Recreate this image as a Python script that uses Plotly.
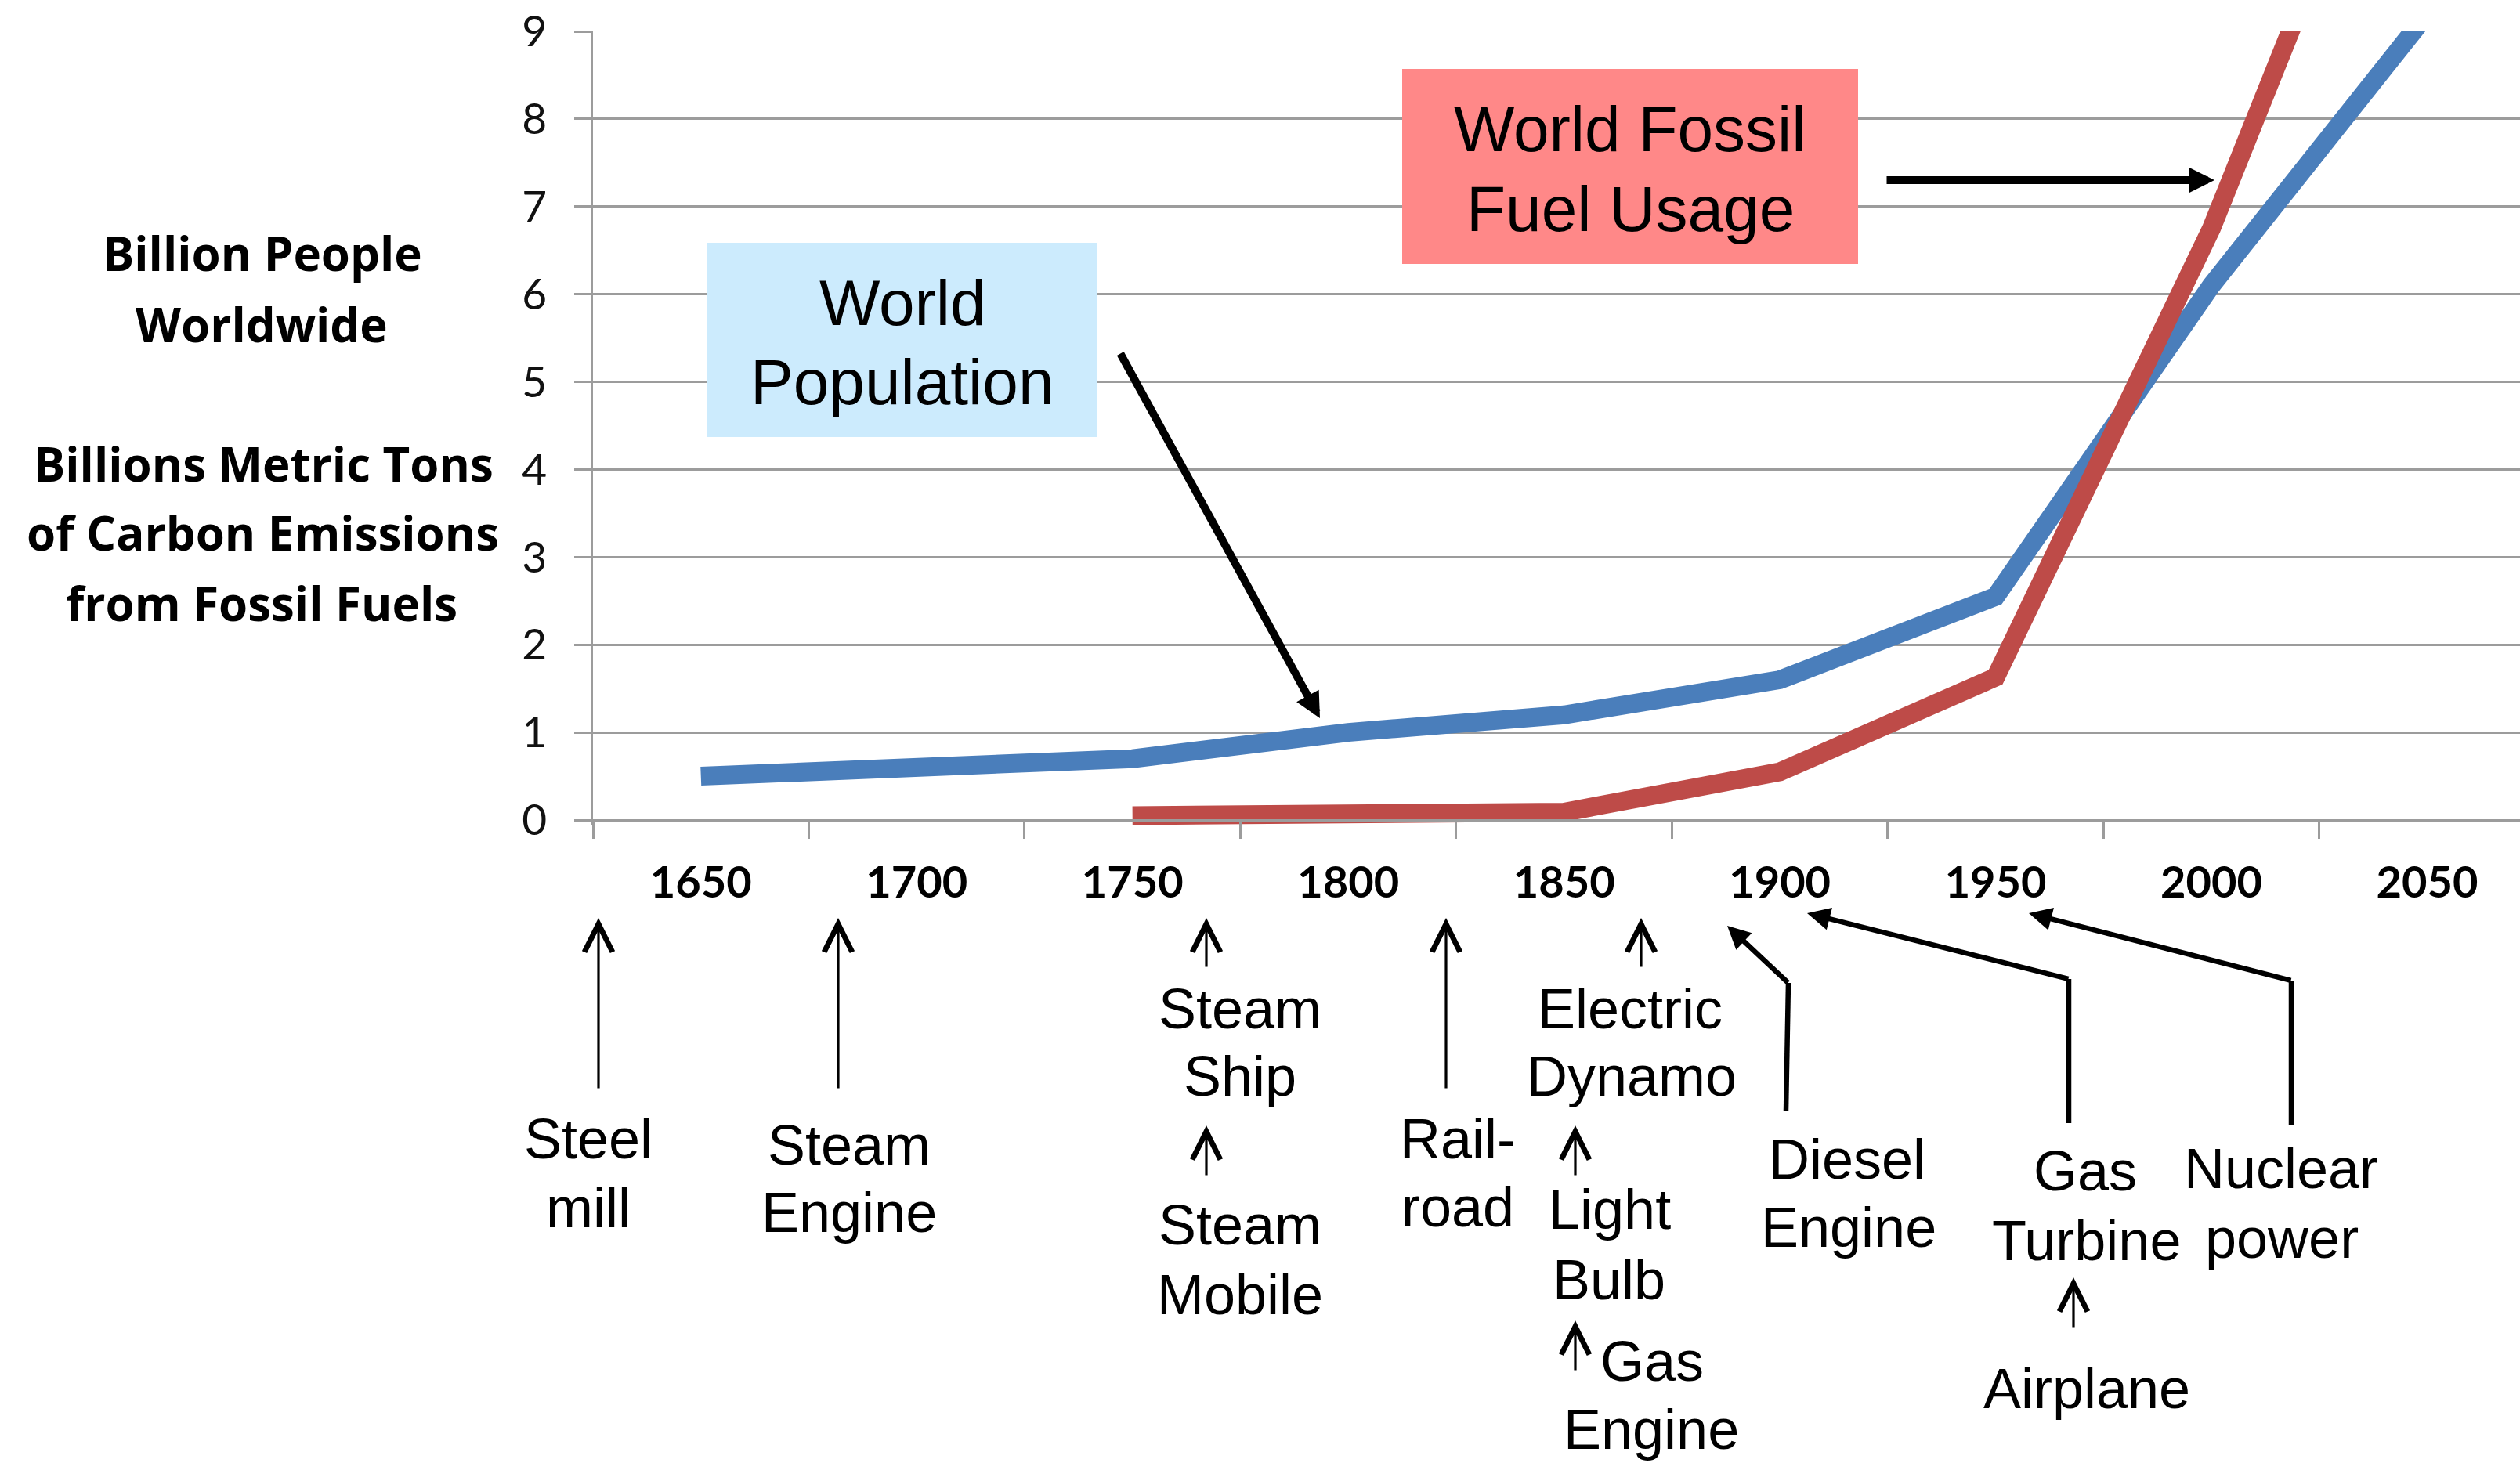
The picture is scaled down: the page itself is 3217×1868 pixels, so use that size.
import plotly.graph_objects as go

# ---- data -------------------------------------------------------------
years = ["1650", "1700", "1750", "1800", "1850", "1900", "1950", "2000", "2050"]
population_billions = [0.5, 0.6, 0.7, 1.0, 1.2, 1.6, 2.55, 6.1, 9.2]
carbon_billion_tons = [None, None, 0.05, 0.06, 0.09, 0.55, 1.63, 6.75, 12.9]

y_ticks = [0, 1, 2, 3, 4, 5, 6, 7, 8, 9]

population_title = ["Billion People", "Worldwide"]
carbon_title = ["Billions Metric Tons", "of Carbon Emissions", "from Fossil Fuels"]
population_box_text = ["World", "Population"]
fossil_box_text = ["World Fossil", "Fuel Usage"]

# ---- canvas geometry (pixels) -----------------------------------------
W, H = 3217, 1868
Y_MAX = 9
PL, PR, PT = 757, 3217, 40       # left/right edges and top (value 9) of the plot area
ZERO_Y = 1047                    # pixel row of value 0
PB = 1054                        # plot bottom: a sliver below zero keeps thick lines unclipped
UNIT = (ZERO_Y - PT) / Y_MAX
Y_MIN = -(PB - ZERO_Y) / UNIT

BLUE = "#4A7EBB"
RED = "#BE4B48"
GRID = "#9c9c9c"
SANS = "Liberation Sans, Arial, sans-serif"
HUMANIST = "Lato, Carlito, Calibri, sans-serif"
TITLE_FONT = "Open Sans, Lato, sans-serif"


def px(x):
    return (x - PL) / (PR - PL)


def py(y):
    return (PB - y) / (PB - PT)


annotations = []
shapes = []


def text_line(text, x, y, size, family, bold=False):
    annotations.append(dict(
        text=text, x=px(x), y=py(y), xref="paper", yref="paper",
        xanchor="center", yanchor="middle", showarrow=False,
        font=dict(family=family, size=size, color="black",
                  weight="bold" if bold else "normal"),
    ))


def arrow(x0, y0, x1, y1, width, head, size):
    annotations.append(dict(
        text="", x=px(x1), y=py(y1), xref="paper", yref="paper",
        ax=x0 - x1, ay=y0 - y1, axref="pixel", ayref="pixel",
        showarrow=True, arrowhead=head, arrowsize=size, arrowwidth=width,
        arrowcolor="black", standoff=0, borderpad=0, font=dict(size=1),
    ))


def segment(x0, y0, x1, y1, width):
    shapes.append(dict(
        type="line", xref="paper", yref="paper",
        x0=px(x0), y0=py(y0), x1=px(x1), y1=py(y1),
        line=dict(color="black", width=width),
    ))


# ---- figure -------------------------------------------------------------
fig = go.Figure()
fig.add_trace(go.Scatter(
    x=years, y=population_billions, mode="lines", name="World Population",
    line=dict(color=BLUE, width=24),
))
fig.add_trace(go.Scatter(
    x=years, y=carbon_billion_tons, mode="lines", name="World Fossil Fuel Usage",
    line=dict(color=RED, width=24),
))

# axis titles on the left
for text, (x, y) in zip(population_title, [(335, 323), (334, 414)]):
    text_line(text, x, y, 60, TITLE_FONT, bold=True)
for text, (x, y) in zip(carbon_title, [(336, 592), (335, 680), (334, 770)]):
    text_line(text, x, y, 60, TITLE_FONT, bold=True)

# callout boxes
shapes.append(dict(type="rect", xref="paper", yref="paper",
                   x0=px(903), x1=px(1401), y0=py(310), y1=py(558),
                   fillcolor="#CCEBFD", line=dict(width=0), layer="above"))
shapes.append(dict(type="rect", xref="paper", yref="paper",
                   x0=px(1790), x1=px(2372), y0=py(88), y1=py(337),
                   fillcolor="#FF8888", line=dict(width=0), layer="above"))
for text, y in zip(population_box_text, [387, 487]):
    text_line(text, 1152, y, 82, SANS)
for text, y in zip(fossil_box_text, [165, 266]):
    text_line(text, 2081, y, 82, SANS)

arrow(1430, 451, 1685, 917, 10, 2, 0.65)
arrow(2408, 230, 2827, 230, 10, 2, 0.65)

# invention milestones below the time axis
milestone_labels = [
    ("Steel", 751, 1454), ("mill", 751, 1542),
    ("Steam", 1084, 1462), ("Engine", 1084, 1548),
    ("Steam", 1583, 1288), ("Ship", 1583, 1374),
    ("Steam", 1583, 1564), ("Mobile", 1583, 1653),
    ("Rail-", 1861, 1454), ("road", 1861, 1541),
    ("Electric", 2081, 1288), ("Dynamo", 2083, 1374),
    ("Light", 2055, 1544), ("Bulb", 2054, 1634),
    ("Gas", 2109, 1738), ("Engine", 2108, 1825),
    ("Diesel", 2358, 1480), ("Engine", 2360, 1567),
    ("Gas", 2662, 1495), ("Turbine", 2663, 1584),
    ("Nuclear", 2912, 1492), ("power", 2913, 1581),
    ("Airplane", 2664, 1773),
]
for text, x, y in milestone_labels:
    text_line(text, x, y, 72, SANS)

# thin upward pointers
for x, top, bottom in [(764, 1172, 1390), (1070, 1172, 1390), (1540, 1172, 1235),
                       (1540, 1437, 1501), (1846, 1172, 1390), (2095, 1172, 1235),
                       (2011, 1437, 1501), (2011, 1686, 1750), (2647, 1631, 1695)]:
    arrow(x, bottom, x, top, 3.2, 5, 2.2)

# elbow pointers
for (bx, by, cx, cy, hx, hy) in [(2280, 1418, 2283, 1255, 2205, 1182),
                                 (2641, 1434, 2641, 1250, 2307, 1166),
                                 (2925, 1436, 2925, 1252, 2590, 1166)]:
    segment(bx, by, cx, cy, 6.5)
    arrow(cx, cy, hx, hy, 6.5, 2, 0.9)

fig.update_layout(
    width=W, height=H,
    margin=dict(l=PL, r=W - PR, t=PT, b=H - PB, pad=0),
    plot_bgcolor="white", paper_bgcolor="white",
    showlegend=False,
    annotations=annotations, shapes=shapes,
)
fig.update_xaxes(
    type="category", range=[-0.5, 8.43],
    anchor="free", position=py(ZERO_Y),
    showgrid=False, zeroline=False,
    showline=True, linecolor=GRID, linewidth=2.5,
    ticks="outside", tickson="boundaries", ticklen=22, tickwidth=2.5, tickcolor=GRID,
    tickfont=dict(family=HUMANIST, size=56, color="black", weight="bold"),
    ticklabelstandoff=30,
)
fig.update_yaxes(
    range=[Y_MIN, Y_MAX], tickvals=y_ticks,
    showgrid=True, gridcolor=GRID, gridwidth=2.5, zeroline=False,
    showline=True, linecolor=GRID, linewidth=2.5,
    ticks="outside", ticklen=21, tickwidth=2.5, tickcolor=GRID,
    tickfont=dict(family=HUMANIST, size=55, color="#111111"),
    ticklabelstandoff=24,
)

fig.write_html("out.html")
